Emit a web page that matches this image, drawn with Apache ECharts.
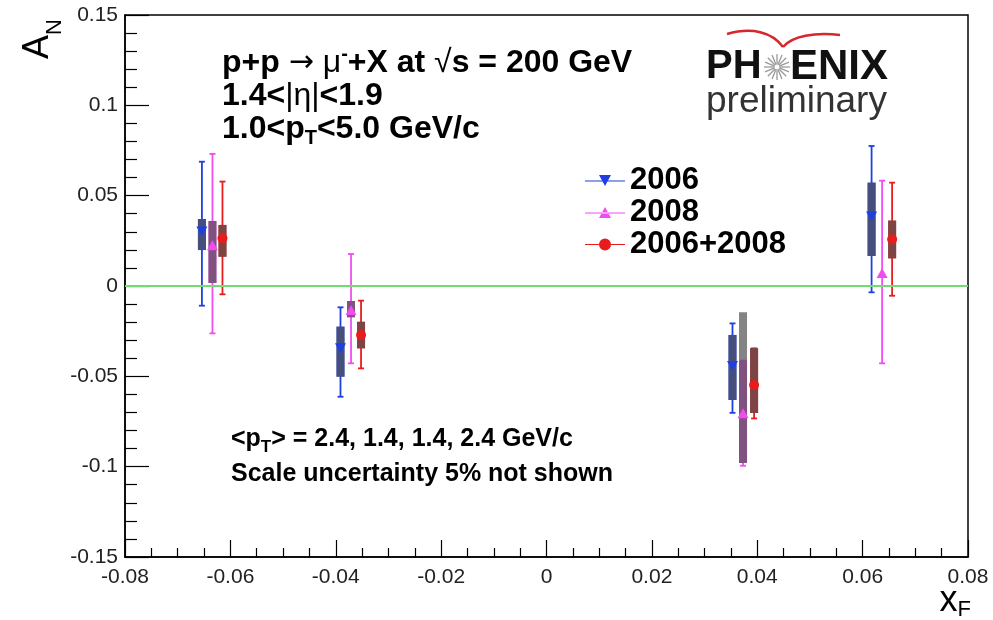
<!DOCTYPE html>
<html><head><meta charset="utf-8">
<script src="https://cdn.jsdelivr.net/npm/echarts@6/dist/echarts.min.js"></script>
<style>html,body{margin:0;padding:0;background:#fff}#c{width:993px;height:620px}</style>
</head><body><div id="c"></div>
<script>
// ---------------- data ----------------
const seriesNames = ['2006', '2008', '2006+2008'];

const xF_2006     = [-0.0654, -0.0391, 0.0353, 0.0617];
const aN_2006     = [ 0.0301, -0.0345, -0.0443, 0.0384];
const statHi_2006 = [ 0.0688, -0.0118, -0.0207, 0.0775];
const statLo_2006 = [-0.0109, -0.0613, -0.0702, -0.0035];
const sysHi_2006  = [ 0.0371, -0.0225, -0.0271, 0.0572];
const sysLo_2006  = [ 0.0199, -0.0502, -0.0631, 0.0166];

const xF_2008     = [-0.0634, -0.0371, 0.0373, 0.0637];
const aN_2008     = [ 0.0225, -0.0133, -0.0704, 0.0072];
const statHi_2008 = [ 0.0731, 0.0177, -0.0413, 0.0583];
const statLo_2008 = [-0.0262, -0.0428, -0.0995, -0.0428];
const sysHi_2008  = [ 0.0360, -0.0083, -0.0145, null];
const sysLo_2008  = [ 0.0017, -0.0173, -0.0980, null];

const xF_comb     = [-0.0615, -0.0352, 0.0394, 0.0656];
const aN_comb     = [ 0.0264, -0.0271, -0.0548, 0.0259];
const statHi_comb = [ 0.0578, -0.0081, -0.0345, 0.0572];
const statLo_comb = [-0.0046, -0.0456, -0.0733, -0.0054];
const sysHi_comb  = [ 0.0338, -0.0198, -0.0343, 0.0362];
const sysLo_comb  = [ 0.0162, -0.0345, -0.0703, 0.0153];

const xTickMin = -0.08, xTickMax = 0.08, xTickStep = 0.02;
const yTickMin = -0.15, yTickMax = 0.15, yTickStep = 0.05;

// ---------------- styling ----------------
const F = '"Liberation Sans", Arial, Helvetica, sans-serif';
const colors = ['#1f3fe0', '#f04cf0', '#e81c1c'];
const sysGray = 'rgba(85,85,85,0.72)';

const sets = [
  {x: xF_2006, y: aN_2006, sh: statHi_2006, sl: statLo_2006, yh: sysHi_2006, yl: sysLo_2006,
   symbol: 'path://M0,0L10,0L5,9Z', size: [11, 10],
   icon: 'path://M0,5.5H40V6.5H0ZM14,0H26L20,11Z'},
  {x: xF_2008, y: aN_2008, sh: statHi_2008, sl: statLo_2008, yh: sysHi_2008, yl: sysLo_2008,
   symbol: 'triangle', size: [11, 10],
   icon: 'path://M0,6.5H40V7.5H0ZM14,12H26L20,1Z'},
  {x: xF_comb, y: aN_comb, sh: statHi_comb, sl: statLo_comb, yh: sysHi_comb, yl: sysLo_comb,
   symbol: 'circle', size: 10,
   icon: 'path://M0,5.5H40V6.5H0ZM14,6A6,6 0 1 1 26,6A6,6 0 1 1 14,6Z'}
];

function statRender(color) {
  return function (params, api) {
    const x = api.value(0);
    const p1 = api.coord([x, api.value(1)]);
    const p2 = api.coord([x, api.value(2)]);
    const cw = 3;
    const st = {stroke: color, lineWidth: 1.8};
    return {type: 'group', children: [
      {type: 'line', shape: {x1: p1[0], y1: p1[1], x2: p2[0], y2: p2[1]}, style: st},
      {type: 'line', shape: {x1: p1[0] - cw, y1: p1[1], x2: p1[0] + cw, y2: p1[1]}, style: st},
      {type: 'line', shape: {x1: p2[0] - cw, y1: p2[1], x2: p2[0] + cw, y2: p2[1]}, style: st}
    ]};
  };
}
function sysRender(color) {
  return function (params, api) {
    const x = api.value(0), sLo = api.value(1), sHi = api.value(2), tLo = api.value(3), tHi = api.value(4);
    const w = 8;
    const a = api.coord([x, sHi]), b = api.coord([x, sLo]);
    const children = [];
    const oHi = Math.min(sHi, tHi), oLo = Math.max(sLo, tLo);
    if (oHi > oLo) {
      const c = api.coord([x, oHi]), d = api.coord([x, oLo]);
      children.push({type: 'rect', shape: {x: c[0] - w / 2, y: c[1], width: w, height: d[1] - c[1]}, style: {fill: color}});
    }
    children.push({type: 'rect', shape: {x: a[0] - w / 2, y: a[1], width: w, height: b[1] - a[1]}, style: {fill: sysGray}});
    return {type: 'group', children};
  };
}

const series = [];
// zero line
series.push({
  type: 'line', name: 'zero', data: [], z: 1, silent: true,
  markLine: {silent: true, symbol: 'none', label: {show: false}, animation: false,
    lineStyle: {color: '#72dc72', width: 2, type: 'solid'}, data: [{yAxis: 0}]}
});
sets.forEach((s, k) => {
  series.push({
    type: 'custom', name: 'stat' + k, z: 2, silent: true,
    renderItem: statRender(colors[k]),
    encode: {x: 0, y: [1, 2]},
    data: s.x.map((x, i) => [x, s.sl[i], s.sh[i]])
  });
});
sets.forEach((s, k) => {
  series.push({
    type: 'custom', name: 'sys' + k, z: 3, silent: true,
    renderItem: sysRender(colors[k]),
    encode: {x: 0, y: [1, 2]},
    data: s.x.map((x, i) => [x, s.yl[i], s.yh[i], s.sl[i], s.sh[i]]).filter(r => r[1] !== null && r[2] !== null)
  });
});
sets.forEach((s, k) => {
  series.push({
    type: 'scatter', name: seriesNames[k], z: 4, silent: true,
    symbol: s.symbol, symbolSize: s.size,
    itemStyle: {color: colors[k], opacity: 1},
    data: s.x.map((x, i) => [x, s.y[i]])
  });
});

// text helpers
function rs(size, weight, extra) {
  return Object.assign({fontFamily: F, fontSize: size, fontWeight: weight, fill: '#000'}, extra || {});
}
const headRich = {
  b: rs(32, 'bold', {lineHeight: 38}),
  n: rs(32, 'normal', {lineHeight: 38}),
  arr: rs(30, 'normal', {lineHeight: 38, fontFamily: '"DejaVu Sans", sans-serif'}),
  sup: rs(20, 'bold', {lineHeight: 20, verticalAlign: 'top'}),
  sub: rs(20, 'bold', {lineHeight: 20, verticalAlign: 'bottom'})
};
const noteRich = {
  b: rs(25, 'bold', {lineHeight: 34}),
  sub: rs(17, 'bold', {lineHeight: 17, verticalAlign: 'bottom'})
};
function txt(x, y, text, rich, align) {
  return {type: 'text', x: x, y: y, silent: true, z: 10,
    style: {text: text, rich: rich, align: align || 'left', verticalAlign: 'middle', fontFamily: F}};
}

const graphics = [
  txt(222, 63, '{b|p+p }{arr|\u2192}{n| \u03bc}{sup|-}{b|+X at }{n|\u221a}{b|s = 200 GeV}', headRich),
  txt(222, 96, '{b|1.4<}{n|\u007c\u03b7\u007c}{b|<1.9}', headRich),
  txt(222, 129, '{b|1.0<p}{sub|T}{b|<5.0 GeV/c}', headRich),
  txt(231, 439, '{b|<p}{sub|T}{b|> = 2.4, 1.4, 1.4, 2.4 GeV/c}', noteRich),
  txt(231, 474, '{b|Scale uncertainty 5% not shown}', noteRich),
  // A_N (rotated)
  {type: 'text', x: 38, y: 59, rotation: Math.PI / 2, silent: true,
   style: {text: '{a|A}{s|N}', align: 'left', verticalAlign: 'middle', fontFamily: F,
     rich: {a: rs(36, 'normal', {lineHeight: 56}), s: rs(22, 'normal', {lineHeight: 22, verticalAlign: 'bottom'})}}},
  // x_F
  {type: 'text', x: 971, y: 601, silent: true,
   style: {text: '{a|x}{s|F}', align: 'right', verticalAlign: 'middle', fontFamily: F,
     rich: {a: rs(36, 'normal', {lineHeight: 40}), s: rs(22, 'normal', {lineHeight: 22, verticalAlign: 'bottom'})}}},
  // PHENIX logo
  {type: 'text', x: 706, y: 67, silent: true,
   style: {text: 'PH', fontFamily: F, fontSize: 40, fontWeight: 'bold', fill: '#111', align: 'left', verticalAlign: 'middle'}},
  {type: 'text', x: 790, y: 67, silent: true,
   style: {text: 'ENIX', fontFamily: F, fontSize: 42, fontWeight: 'bold', fill: '#111', align: 'left', verticalAlign: 'middle'}},
  {type: 'text', x: 706, y: 102, silent: true,
   style: {text: 'preliminary', fontFamily: F, fontSize: 37, fontWeight: 'normal', fill: '#333', align: 'left', verticalAlign: 'middle'}},
  {type: 'bezierCurve', silent: true,
   shape: {x1: 727, y1: 34, cpx1: 752, cpy1: 27, cpx2: 772, cpy2: 32, x2: 783, y2: 47},
   style: {stroke: '#d8262a', lineWidth: 2.5, fill: null}},
  {type: 'bezierCurve', silent: true,
   shape: {x1: 783, y1: 47, cpx1: 792, cpy1: 36, cpx2: 815, cpy2: 32, x2: 840, y2: 35},
   style: {stroke: '#d8262a', lineWidth: 2.5, fill: null}}
];
// sunburst in the logo
for (let i = 0; i < 16; i++) {
  const t = i * Math.PI / 8;
  graphics.push({type: 'line', silent: true,
    shape: {x1: 777 + 2.5 * Math.cos(t), y1: 67 + 2.5 * Math.sin(t), x2: 777 + 13 * Math.cos(t), y2: 67 + 13 * Math.sin(t)},
    style: {stroke: '#9a9a9a', lineWidth: 1.3}});
}

const chart = echarts.init(document.getElementById('c'), null, {renderer: 'canvas'});
chart.setOption({
  animation: false,
  backgroundColor: '#fff',
  grid: {left: 125, right: 25, top: 15, bottom: 63, show: true, borderColor: '#000', borderWidth: 1.5, backgroundColor: 'transparent'},
  xAxis: {
    type: 'value', min: xTickMin, max: xTickMax, interval: xTickStep,
    axisLine: {show: true, onZero: false, lineStyle: {color: '#000', width: 1.5}},
    axisTick: {show: true, inside: true, length: 17, lineStyle: {color: '#000', width: 1.2}},
    minorTick: {show: true, splitNumber: 4, length: 9, lineStyle: {color: '#000', width: 1.2}},
    splitLine: {show: false},
    axisLabel: {fontFamily: F, fontSize: 21, color: '#222', margin: 10, showMinLabel: true, showMaxLabel: true}
  },
  yAxis: {
    type: 'value', min: yTickMin, max: yTickMax, interval: yTickStep,
    axisLine: {show: true, onZero: false, lineStyle: {color: '#000', width: 1.5}},
    axisTick: {show: true, inside: true, length: 24, lineStyle: {color: '#000', width: 1.2}},
    minorTick: {show: true, splitNumber: 5, length: 12, lineStyle: {color: '#000', width: 1.2}},
    splitLine: {show: false},
    axisLabel: {fontFamily: F, fontSize: 21, color: '#222', margin: 7, showMinLabel: true, showMaxLabel: true}
  },
  legend: {
    orient: 'vertical', left: 585, top: 165, padding: 0, itemWidth: 40, itemHeight: 12, itemGap: 1,
    selectedMode: false,
    textStyle: {fontFamily: F, fontSize: 31, fontWeight: 'bold', color: '#000'},
    data: seriesNames.map((n, k) => ({name: n, icon: sets[k].icon}))
  },
  graphic: {elements: graphics},
  series: series
});
</script>
</body></html>
